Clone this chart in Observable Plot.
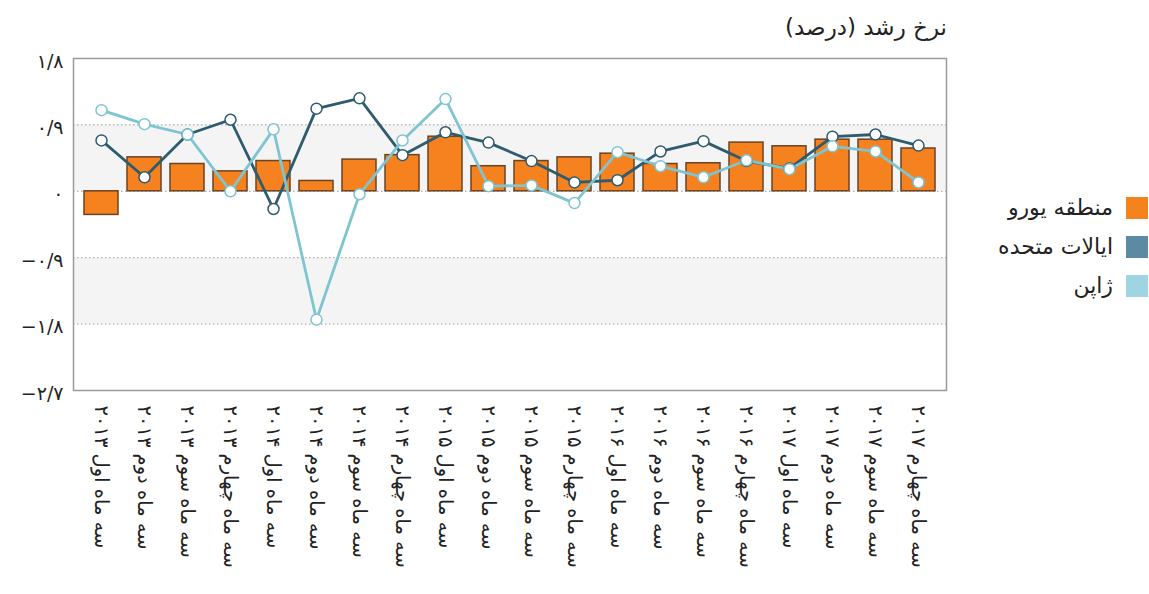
<!DOCTYPE html>
<html lang="fa">
<head>
<meta charset="utf-8">
<script src="https://cdn.jsdelivr.net/npm/d3@7"></script>
<script src="https://cdn.jsdelivr.net/npm/@observablehq/plot@0.6"></script>
<style>
  html, body { margin: 0; padding: 0; background: #fff; }
  body { font-family: "DejaVu Sans", sans-serif; }
  #wrap { position: relative; width: 1149px; height: 594px; }
  #title { height: 46px; width: 947px; direction: rtl; text-align: right; box-sizing: border-box;
           font-size: 23px; line-height: 54px; color: #222; }
  #legend { position: absolute; right: 1px; top: 188px; direction: rtl; }
  .item { display: flex; align-items: center; height: 39px; font-size: 22px; color: #222; }
  .sw { width: 22px; height: 22px; margin-left: 13px; }
</style>
</head>
<body>
<div id="wrap">
  <div id="title">نرخ رشد (درصد)</div>
  <div id="chart"></div>
  <div id="legend"></div>
</div>
<script>
const categories = [
  "سه ماه اول ۲۰۱۳", "سه ماه دوم ۲۰۱۳", "سه ماه سوم ۲۰۱۳", "سه ماه چهارم ۲۰۱۳",
  "سه ماه اول ۲۰۱۴", "سه ماه دوم ۲۰۱۴", "سه ماه سوم ۲۰۱۴", "سه ماه چهارم ۲۰۱۴",
  "سه ماه اول ۲۰۱۵", "سه ماه دوم ۲۰۱۵", "سه ماه سوم ۲۰۱۵", "سه ماه چهارم ۲۰۱۵",
  "سه ماه اول ۲۰۱۶", "سه ماه دوم ۲۰۱۶", "سه ماه سوم ۲۰۱۶", "سه ماه چهارم ۲۰۱۶",
  "سه ماه اول ۲۰۱۷", "سه ماه دوم ۲۰۱۷", "سه ماه سوم ۲۰۱۷", "سه ماه چهارم ۲۰۱۷"
];
const euroArea = [-0.32, 0.46, 0.37, 0.27, 0.41, 0.14, 0.43, 0.49, 0.74, 0.34, 0.41, 0.46, 0.51, 0.37, 0.38, 0.66, 0.61, 0.70, 0.70, 0.58];
const unitedStates = [0.69, 0.19, 0.77, 0.97, -0.24, 1.12, 1.26, 0.49, 0.80, 0.66, 0.41, 0.12, 0.15, 0.54, 0.68, 0.41, 0.31, 0.74, 0.77, 0.62];
const japan = [1.10, 0.91, 0.77, 0.00, 0.84, -1.74, -0.04, 0.69, 1.25, 0.07, 0.08, -0.16, 0.53, 0.34, 0.19, 0.42, 0.30, 0.61, 0.54, 0.12];
const yTicks = [1.8, 0.9, 0, -0.9, -1.8, -2.7];
const yTickLabels = ["۱/۸", "۰/۹", "۰", "−۰/۹", "−۱/۸", "−۲/۷"];
const seriesNames = ["منطقه یورو", "ایالات متحده", "ژاپن"];
const legendColors = ["#f5821f", "#5b8aa2", "#9fd5e2"];
const lineColors = ["#f5821f", "#2f5b6f", "#7ec4d1"];

const euroRows = categories.map((c, i) => ({c, v: euroArea[i]}));
const usRows = categories.map((c, i) => ({c, v: unitedStates[i]}));
const jpRows = categories.map((c, i) => ({c, v: japan[i]}));
const bands = yTicks.slice(0, -1).map((t, i) => [t, yTicks[i + 1]]).filter((d, i) => i % 2 === 1);
const gridTicks = yTicks.slice(1, -1);

const chart = Plot.plot({
  width: 1149,
  height: 548,
  marginTop: 12,
  marginLeft: 73,
  marginRight: 203,
  marginBottom: 204,
  style: {fontFamily: "DejaVu Sans, sans-serif", background: "transparent"},
  x: {type: "band", domain: categories, paddingInner: 0.22, paddingOuter: 0.11, label: null},
  y: {domain: [-2.7, 1.8], label: null},
  marks: [
    Plot.rect(bands, {y1: d => d[0], y2: d => d[1], fill: "#f4f4f4"}),
    Plot.ruleY(gridTicks, {stroke: "#9a9a9a", strokeDasharray: "1.5,2.5", strokeWidth: 1}),
    Plot.barY(euroRows, {x: "c", y: "v", fill: lineColors[0], stroke: "#6a4324", strokeWidth: 1.5}),
    Plot.line(usRows, {x: "c", y: "v", stroke: lineColors[1], strokeWidth: 2.8}),
    Plot.line(jpRows, {x: "c", y: "v", stroke: lineColors[2], strokeWidth: 2.8}),
    Plot.dot(usRows, {x: "c", y: "v", r: 5.5, fill: "white", stroke: lineColors[1], strokeWidth: 1.5}),
    Plot.dot(jpRows, {x: "c", y: "v", r: 5.5, fill: "white", stroke: lineColors[2], strokeWidth: 1.5}),
    Plot.frame({stroke: "#9a9a9a", strokeWidth: 1.5}),
    Plot.axisY({ticks: yTicks, tickSize: 0, tickPadding: 10, fontSize: 19, fill: "#222",
      tickFormat: d => yTickLabels[yTicks.indexOf(d)], dy: 3}),
    Plot.axisX({tickSize: 0, tickPadding: 15, tickRotate: 90, fontSize: 19.5, fill: "#222"})
  ]
});
document.getElementById("chart").appendChild(chart);

const legend = document.getElementById("legend");
seriesNames.forEach((name, i) => {
  const item = document.createElement("div");
  item.className = "item";
  const sw = document.createElement("div");
  sw.className = "sw";
  sw.style.background = legendColors[i];
  const label = document.createElement("span");
  label.textContent = name;
  item.appendChild(sw);
  item.appendChild(label);
  legend.appendChild(item);
});
</script>
</body>
</html>
